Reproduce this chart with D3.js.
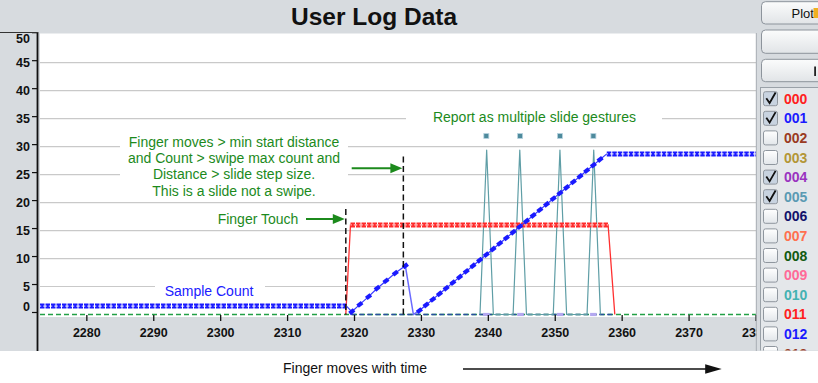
<!DOCTYPE html>
<html><head><meta charset="utf-8">
<script src="https://cdn.jsdelivr.net/npm/d3@7/dist/d3.min.js"></script>
<style>
html,body{margin:0;padding:0;background:#fff;}
svg{display:block;font-family:"Liberation Sans",Arial,sans-serif;}
</style></head><body>
<svg id="c" width="818" height="383"></svg>
<script>
// ---------- data ----------
const yTicks = [0, 5, 10, 15, 20, 25, 30, 35, 40, 45, 50];
const xTicks = [2280, 2290, 2300, 2310, 2320, 2330, 2340, 2350, 2360, 2370, 2380];

// Series 001 (blue) : sample count
const countHold1 = [[2273, 1.5], [2318.8, 1.5]];
const countRamp1X = [2319.6, 2320.8, 2322.1, 2323.4, 2324.7, 2326.1, 2327.6];
const countRamp1Y = [0.5, 1.8, 3.2, 4.7, 6.0, 7.4, 8.7];
const countReset = [2328.8, 0];
const countRamp2X = [2329.7, 2330.7, 2331.7, 2332.7, 2333.7, 2334.7, 2335.7, 2336.7, 2337.7, 2338.7,
  2339.7, 2340.7, 2341.7, 2342.7, 2343.7, 2344.7, 2345.7, 2346.7, 2347.7, 2348.7,
  2349.7, 2350.7, 2351.7, 2352.7, 2353.7, 2354.7, 2355.7, 2356.7];
const countRamp2Y = [0.7, 1.7, 2.7, 3.7, 4.7, 5.7, 6.7, 7.7, 8.7, 9.7,
  10.7, 11.7, 12.7, 13.7, 14.7, 15.7, 16.7, 17.7, 18.7, 19.7,
  20.7, 21.7, 22.7, 23.7, 24.7, 25.7, 26.7, 27.7];
const countHold2 = [[2357.7, 28.7], [2380, 28.7]];

// Series 000 (red) : finger touch
const touchX = [2318.7, 2319.4, 2357.9, 2358.9];
const touchY = [0, 16, 16, 0];

// Series 005 (teal) : slide gestures
const gestureX = [2338.75, 2339.75, 2340.75, 2343.7, 2344.7, 2345.7, 2349.7, 2350.7, 2351.7, 2354.75, 2355.75, 2356.75];
const gestureY = [0, 29.4, 0, 0, 29.4, 0, 0, 29.4, 0, 0, 29.4, 0];
const gestureMarkX = [2339.7, 2344.75, 2350.7, 2355.7];
const gestureMarkY = [31.9, 31.9, 31.9, 31.9];

// Series 004 (purple) : markers at zero
const purpleX = [2339.7, 2344.8, 2350.7, 2355.7];
const purpleY = [0, 0, 0, 0];

// zero baselines
const greenBase = [[2273, 0], [2380, 0]];
const navyBase = [[2319.5, 0], [2358.5, 0]];

// annotation lines (data x)
const touchLineX = 2318.7;
const slideLineX = 2327.3;

// channel list
const channels = ["000","001","002","003","004","005","006","007","008","009","010","011","012","013"];
const channelColors = ["#ff2020","#1a1aff","#9a3a22","#b39636","#9a33c0","#5a9ab3","#12126a","#ff7050","#125a12","#ff6a98","#45b2b2","#ff2020","#1a1aff","#9a3a22"];
const channelChecked = [true,true,false,false,true,true,false,false,false,false,false,false,false,false];

// ---------- drawing ----------
const svg = d3.select('#c');
const gray = '#d7dbdf';
const PL = 40, PR = 756, PT = 33.5, PB = 317;

const x = d3.scaleLinear().domain([2273, 2380]).range([PL, PR]);
const y = d3.scaleLinear().domain([0, 50]).range([314.5, 34.7]);
const line = d3.line().x(d => x(d[0])).y(d => y(d[1]));

svg.append('rect').attr('width', 818).attr('height', 383).attr('fill', '#fff');
svg.append('rect').attr('x', 0).attr('y', 0).attr('width', 818).attr('height', 351).attr('fill', gray);
svg.append('rect').attr('x', PL).attr('y', PT).attr('width', PR - PL).attr('height', PB - PT).attr('fill', '#fff');

// title
svg.append('text').attr('x', 374).attr('y', 25).attr('text-anchor', 'middle')
  .attr('font-size', 24.5).attr('font-weight', 'bold').attr('fill', '#111').text('User Log Data');

const defs = svg.append('defs');
defs.append('clipPath').attr('id', 'plotclip').append('rect')
  .attr('x', PL).attr('y', PT).attr('width', PR - PL).attr('height', PB - PT);

// grid
const gridG = svg.append('g');
gridG.selectAll('line').data(yTicks.filter(v => v > 0 && v < 50)).join('line')
  .attr('x1', PL).attr('x2', PR).attr('y1', d => y(d)).attr('y2', d => y(d))
  .attr('stroke', '#c9c9c9').attr('stroke-width', 1.2);

// text backgrounds (hide grid)
const bgs = [[120, 132, 228, 66], [406, 106, 256, 20], [155, 280, 110, 18]];
svg.append('g').selectAll('rect').data(bgs).join('rect')
  .attr('x', d => d[0]).attr('y', d => d[1]).attr('width', d => d[2]).attr('height', d => d[3]).attr('fill', '#fff');

const g = svg.append('g').attr('clip-path', 'url(#plotclip)');

// baselines
g.append('path').attr('d', line(greenBase)).attr('fill', 'none').attr('stroke', '#22a046')
  .attr('stroke-width', 1.4).attr('stroke-dasharray', '5 3');
g.append('path').attr('d', line(navyBase)).attr('fill', 'none').attr('stroke', '#2a4f9e')
  .attr('stroke-width', 1.4).attr('stroke-dasharray', '5 3');

// purple markers
g.selectAll('rect.pu').data(purpleX.map((v, i) => [v, purpleY[i]])).join('rect').attr('class', 'pu')
  .attr('x', d => x(d[0]) - 3.3).attr('y', d => y(d[1]) - 1.6).attr('width', 6.6).attr('height', 3.2)
  .attr('fill', '#b4a8f0');

// teal spikes
g.append('path').attr('d', line(gestureX.map((v, i) => [v, gestureY[i]])))
  .attr('fill', 'none').attr('stroke', '#5f9ea6').attr('stroke-width', 1.2).attr('stroke-linejoin', 'round');
g.selectAll('rect.gm').data(gestureMarkX.map((v, i) => [v, gestureMarkY[i]])).join('rect').attr('class', 'gm')
  .attr('x', d => x(d[0]) - 2.5).attr('y', d => y(d[1]) - 2.5).attr('width', 5).attr('height', 5)
  .attr('fill', '#4d8a9c').attr('stroke', '#b8d4e0').attr('stroke-width', 0.8);

function band(pts, color) {
  g.append('path').attr('d', line(pts)).attr('fill', 'none').attr('stroke', color)
    .attr('stroke-width', 5).attr('stroke-dasharray', '4.5 1');
  g.append('path').attr('d', line(pts)).attr('fill', 'none').attr('stroke', '#fff').attr('stroke-opacity', 0.75)
    .attr('stroke-width', 1.3).attr('stroke-dasharray', '3.5 2').attr('stroke-dashoffset', 2.25);
}

// red touch
const touchPts = touchX.map((v, i) => [v, touchY[i]]);
g.append('path').attr('d', line(touchPts)).attr('fill', 'none').attr('stroke', '#ff3030').attr('stroke-width', 1.3);
band([touchPts[1], touchPts[2]], '#ff2a2a');

// blue count
const ramp1 = countRamp1X.map((v, i) => [v, countRamp1Y[i]]);
const ramp2 = countRamp2X.map((v, i) => [v, countRamp2Y[i]]);
g.append('path').attr('d', line([countHold1[1], ramp1[0]])).attr('fill', 'none').attr('stroke', '#3a3aff').attr('stroke-width', 1.2);
g.append('path').attr('d', line(ramp1)).attr('fill', 'none').attr('stroke', '#3a3aff').attr('stroke-width', 1.2);
g.append('path').attr('d', line([ramp1[ramp1.length - 1], countReset, ramp2[0]])).attr('fill', 'none').attr('stroke', '#6b6bff').attr('stroke-width', 1.5);
g.append('path').attr('d', line(ramp2.concat([countHold2[0]]))).attr('fill', 'none').attr('stroke', '#3a3aff').attr('stroke-width', 1.2);
band(countHold1, '#1a1aff');
band(countHold2, '#1a1aff');
g.selectAll('rect.cm').data(ramp1.concat(ramp2)).join('rect').attr('class', 'cm')
  .attr('x', -2.9).attr('y', -2.1).attr('width', 5.8).attr('height', 4.2)
  .attr('transform', d => `translate(${x(d[0])},${y(d[1])}) rotate(-38)`)
  .attr('fill', '#1a1aff');

// dashed vertical annotation lines
g.append('line').attr('x1', x(touchLineX)).attr('x2', x(touchLineX)).attr('y1', 209).attr('y2', y(0))
  .attr('stroke', '#111').attr('stroke-width', 1.5).attr('stroke-dasharray', '6 3.5');
g.append('line').attr('x1', x(slideLineX)).attr('x2', x(slideLineX)).attr('y1', 156.5).attr('y2', y(0))
  .attr('stroke', '#111').attr('stroke-width', 1.5).attr('stroke-dasharray', '6 3.5');

// annotations
const green = '#1c8a1c';
const ann = svg.append('g').attr('font-size', 14).attr('fill', green).attr('text-anchor', 'middle');
const block = ["Finger moves > min start distance", "and Count > swipe max count and", "Distance > slide step size.", "This is a slide not a swipe."];
ann.selectAll('text.b').data(block).join('text').attr('class', 'b')
  .attr('x', 234).attr('y', (d, i) => 147 + i * 16.2).text(d => d);
ann.append('text').attr('x', 258).attr('y', 224).text('Finger Touch');
ann.append('text').attr('x', 534.5).attr('y', 121.7).text('Report as multiple slide gestures');
svg.append('text').attr('x', 209).attr('y', 296).attr('text-anchor', 'middle').attr('font-size', 14)
  .attr('fill', '#2020ff').text('Sample Count');

function arrow(x1, x2, yy, color, w, hl, hh) {
  svg.append('line').attr('x1', x1).attr('x2', x2 - hl + 1).attr('y1', yy).attr('y2', yy)
    .attr('stroke', color).attr('stroke-width', w);
  svg.append('path').attr('d', `M${x2},${yy}L${x2 - hl},${yy - hh}L${x2 - hl},${yy + hh}Z`).attr('fill', color);
}
arrow(306, x(touchLineX) - 1, 219, green, 2, 12, 5);
arrow(351.7, x(slideLineX) - 1, 168.3, green, 2, 12, 5);

// y axis
const yl = svg.append('g').attr('font-size', 12.5).attr('font-weight', 'bold').attr('fill', '#111').attr('text-anchor', 'end');
yl.selectAll('text').data(yTicks).join('text')
  .attr('x', 30).attr('y', d => Math.max(38.5, Math.min(306.7, y(d))) + 4.5).text(d => d);
svg.append('g').selectAll('line').data(yTicks).join('line')
  .attr('x1', 32).attr('x2', 37).attr('y1', d => y(d) - 2).attr('y2', d => y(d) - 2)
  .attr('stroke', '#111').attr('stroke-width', 1.2);

// x axis
svg.append('g').selectAll('line').data(xTicks).join('line')
  .attr('x1', d => x(d)).attr('x2', d => x(d)).attr('y1', 315).attr('y2', 321)
  .attr('stroke', '#111').attr('stroke-width', 1.3);
svg.append('g').attr('font-size', 12.5).attr('font-weight', 'bold').attr('fill', '#111').attr('text-anchor', 'middle')
  .selectAll('text').data(xTicks).join('text').attr('x', d => x(d)).attr('y', 337.3).text(d => d);

// frame lines
svg.append('line').attr('x1', 37.5).attr('x2', 37.5).attr('y1', 32).attr('y2', 351).attr('stroke', '#111').attr('stroke-width', 1.8);
svg.append('line').attr('x1', 0).attr('x2', 38).attr('y1', 32.5).attr('y2', 32.5).attr('stroke', '#333').attr('stroke-width', 1);
svg.append('line').attr('x1', 756.3).attr('x2', 756.3).attr('y1', 33).attr('y2', 351).attr('stroke', '#a8adb3').attr('stroke-width', 1);

// right panel
svg.append('rect').attr('x', 757).attr('y', 0).attr('width', 61).attr('height', 351).attr('fill', gray);
const grad = defs.append('linearGradient').attr('id', 'btn').attr('x1', 0).attr('y1', 0).attr('x2', 0).attr('y2', 1);
grad.append('stop').attr('offset', 0).attr('stop-color', '#fbfcfc');
grad.append('stop').attr('offset', 1).attr('stop-color', '#e1e4e7');
const btns = [[1.7, 22.3], [30, 23.3], [59.3, 22.4]];
svg.append('g').selectAll('rect').data(btns).join('rect')
  .attr('x', 761.5).attr('y', d => d[0]).attr('width', 80).attr('height', d => d[1]).attr('rx', 4)
  .attr('fill', 'url(#btn)').attr('stroke', '#8d949c').attr('stroke-width', 1);
svg.append('text').attr('x', 791.5).attr('y', 18).attr('font-size', 13).attr('fill', '#111').text('Plot');
svg.append('rect').attr('x', 813.5).attr('y', 8).attr('width', 5).attr('height', 10).attr('fill', '#f0b020');
svg.append('rect').attr('x', 814.2).attr('y', 66.5).attr('width', 1.8).attr('height', 9.5).attr('fill', '#222');

defs.append('clipPath').attr('id', 'listclip').append('rect').attr('x', 757).attr('y', 86).attr('width', 61).attr('height', 264.5);
const lg = svg.append('g').attr('clip-path', 'url(#listclip)');
lg.append('rect').attr('x', 760.5).attr('y', 87.5).attr('width', 70).attr('height', 300)
  .attr('fill', '#e4e7ea').attr('stroke', '#9aa1a8').attr('stroke-width', 1);
const cbg = defs.append('linearGradient').attr('id', 'cb').attr('x1', 0).attr('y1', 0).attr('x2', 0).attr('y2', 1);
cbg.append('stop').attr('offset', 0).attr('stop-color', '#ffffff');
cbg.append('stop').attr('offset', 1).attr('stop-color', '#e2e6ea');
const rows = lg.selectAll('g.row').data(channels).join('g').attr('class', 'row')
  .attr('transform', (d, i) => `translate(0,${98.7 + i * 19.6})`);
rows.append('rect').attr('x', 763.5).attr('y', -7).attr('width', 14).attr('height', 14).attr('rx', 2)
  .attr('fill', (d, i) => channelChecked[i] ? '#c8d3e0' : 'url(#cb)').attr('stroke', '#8f969e').attr('stroke-width', 1);
rows.filter((d, i) => channelChecked[i]).append('path').attr('d', 'M766.3,-0.5L769.6,4.3L775.6,-6.2')
  .attr('fill', 'none').attr('stroke', '#111').attr('stroke-width', 1.8);
rows.append('text').attr('x', 784).attr('y', 5).attr('font-size', 14).attr('font-weight', 'bold')
  .attr('fill', (d, i) => channelColors[i]).text(d => d);

// bottom caption
svg.append('text').attr('x', 283).attr('y', 373).attr('font-size', 14).attr('fill', '#111').text('Finger moves with time');
arrow(463, 721.7, 369, '#111', 1.6, 16.5, 4.8);
</script></body></html>
